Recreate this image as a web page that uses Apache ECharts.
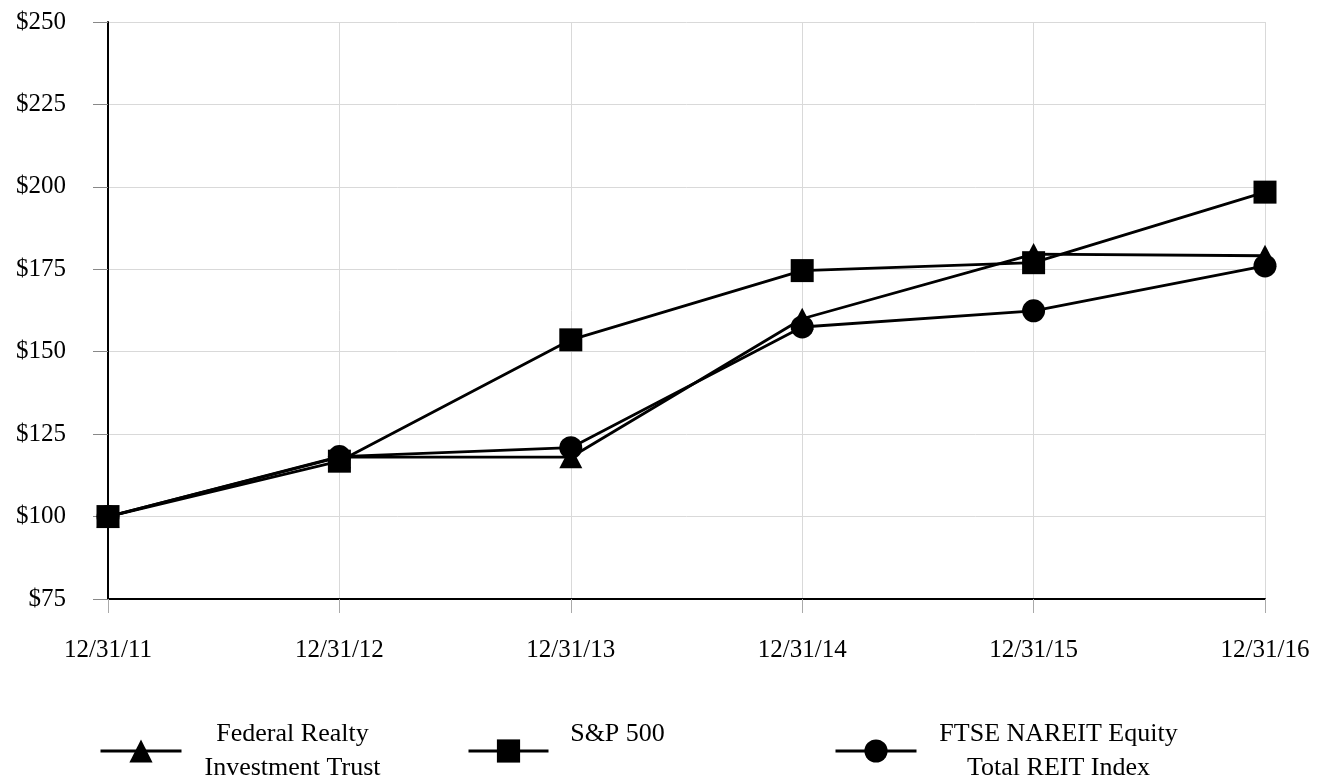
<!DOCTYPE html>
<html>
<head>
<meta charset="utf-8">
<script src="https://cdn.jsdelivr.net/npm/echarts@6/dist/echarts.min.js"></script>
<style>html,body{margin:0;padding:0;background:#fff}#c{width:1317px;height:777px}</style>
</head>
<body>
<div id="c"></div>
<script>
const categories = ['12/31/11','12/31/12','12/31/13','12/31/14','12/31/15','12/31/16'];
const federalRealty = [100, 118, 118, 160, 179.6, 179.1];
const sp500 = [100, 116.8, 153.6, 174.6, 177, 198.4];
const ftseNareit = [100, 118.2, 120.9, 157.5, 162.4, 176];
const seriesNames = ['Federal Realty Investment Trust', 'S&P 500', 'FTSE NAREIT Equity Total REIT Index'];

const FONT = 'Liberation Serif';
const chart = echarts.init(document.getElementById('c'));

function mkSeries(name, data, symbol, size, z) {
  return {
    name: name, type: 'line', data: data, symbol: symbol, symbolSize: size,
    showSymbol: true, z: z,
    lineStyle: {color: '#000', width: 2.8},
    itemStyle: {color: '#000'},
    emphasis: {disabled: true},
    animation: false
  };
}
function mkLegend(name, left, iw, label, boxW) {
  return {
    data: [name], left: left, top: 721, orient: 'horizontal', padding: 0,
    itemWidth: iw, itemHeight: 29, selectedMode: false,
    formatter: function(){ return label; },
    lineStyle: {width: 3},
    textStyle: {
      fontFamily: FONT, fontSize: 26, color: '#000',
      rich: {a: {fontFamily: FONT, fontSize: 26, color: '#000', width: boxW, align: 'center', lineHeight: 34}}
    }
  };
}

chart.setOption({
  animation: false,
  backgroundColor: '#fff',
  grid: {left: 108, right: 52, top: 22, bottom: 178, containLabel: false},
  xAxis: {
    type: 'category', data: categories, boundaryGap: false,
    axisLine: {show: true, lineStyle: {color: '#000', width: 2}},
    axisTick: {show: true, length: 14, lineStyle: {color: '#aaa', width: 1}},
    axisLabel: {fontFamily: FONT, fontSize: 25, color: '#000', margin: 39},
    splitLine: {show: true, lineStyle: {color: '#d9d9d9', width: 1}}
  },
  yAxis: {
    type: 'value', min: 75, max: 250, interval: 25,
    axisLine: {show: true, lineStyle: {color: '#000', width: 2}},
    axisTick: {show: true, length: 15, lineStyle: {color: '#888', width: 1}},
    axisLabel: {fontFamily: FONT, fontSize: 25, color: '#000', margin: 42, formatter: function(v){ return '$' + v; }},
    splitLine: {show: true, lineStyle: {color: '#d9d9d9', width: 1}}
  },
  legend: [
    mkLegend(seriesNames[0], 99, 81, '{a|Federal Realty}\n{a|Investment Trust}', 212),
    mkLegend(seriesNames[1], 467, 80, '{a|S&P 500}\n{a| }', 128),
    mkLegend(seriesNames[2], 834, 81, '{a|FTSE NAREIT Equity}\n{a|Total REIT Index}', 274)
  ],
  series: [
    mkSeries(seriesNames[0], federalRealty, 'triangle', [23, 22], 3),
    mkSeries(seriesNames[2], ftseNareit, 'circle', 23, 4),
    mkSeries(seriesNames[1], sp500, 'rect', 23, 5)
  ]
});
</script>
</body>
</html>
